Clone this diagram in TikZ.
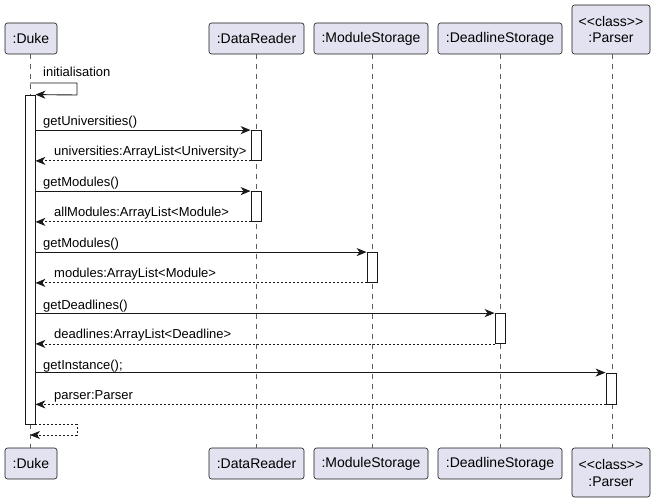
\documentclass[tikz,border=0pt]{standalone}
\usepackage{fontspec}
\setmainfont{Liberation Sans}
\usetikzlibrary{arrows.meta}
\definecolor{pfill}{HTML}{E2E2F0}
\definecolor{pline}{HTML}{181818}
\tikzset{
  part/.style={draw=pline, fill=pfill, line width=0.6pt, rounded corners=2.5pt, inner sep=0pt,
    font=\fontsize{14}{17}\selectfont, align=center, minimum height=31pt},
  life/.style={draw=pline!70, line width=0.5pt, dash pattern=on 5pt off 5pt},
  actbox/.style={draw=pline, fill=white, line width=0.8pt, inner sep=0pt, minimum width=10pt},
  call/.style={draw=pline, line width=0.9pt, -{Stealth[length=10pt,width=8pt,inset=3pt]}},
  ret/.style={draw=pline, line width=0.8pt, dash pattern=on 2pt off 2pt, -{Stealth[length=10pt,width=8pt,inset=3pt]}},
  msg/.style={anchor=base west, inner sep=0pt, font=\fontsize{13}{15}\selectfont, text=black}
}
\begin{document}
\begin{tikzpicture}[x=1pt,y=-1pt]
\useasboundingbox (0,0) rectangle (655,502);
% participants top
\node[part, minimum width=52pt] (dukeT) at (31,38.5) {:Duke};
\node[part, minimum width=95pt] (drT) at (256.5,38.5) {:DataReader};
\node[part, minimum width=114pt] (msT) at (371,38.5) {:ModuleStorage};
\node[part, minimum width=124pt] (dsT) at (500,38.5) {:DeadlineStorage};
\node[part, minimum width=78pt, minimum height=49pt] (pT) at (611,29.5) {<\kern0pt<class>\kern0pt>\\:Parser};
% participants bottom
\node[part, minimum width=52pt] (dukeB) at (31,463.5) {:Duke};
\node[part, minimum width=95pt] (drB) at (256.5,463.5) {:DataReader};
\node[part, minimum width=114pt] (msB) at (371,463.5) {:ModuleStorage};
\node[part, minimum width=124pt] (dsB) at (500,463.5) {:DeadlineStorage};
\node[part, minimum width=78pt, minimum height=49pt] (pB) at (611,472.5) {<\kern0pt<class>\kern0pt>\\:Parser};
% lifelines
\draw[life] (30,54) -- (30,448);
\draw[life] (256,54) -- (256,448);
\draw[life] (372,54) -- (372,448);
\draw[life] (500,54) -- (500,448);
\draw[life] (612,54) -- (612,448);
% activations
\node[actbox, minimum height=329pt] (dukeA) at (30,259.5) {};
\node[actbox, minimum height=30pt] (dr1) at (256,145.5) {};
\node[actbox, minimum height=30pt] (dr2) at (256,206.5) {};
\node[actbox, minimum height=30pt] (ms1) at (372,267.5) {};
\node[actbox, minimum height=30pt] (ds1) at (500,328.5) {};
\node[actbox, minimum height=31pt] (p1) at (611,388.5) {};
% self message
\coordinate (s0) at (30,83);
\coordinate (s1) at (77,95);
\draw[call] (s0) -- (s0 -| s1) -- (s1) -- (dukeA.north east);
\node[msg] (l0) at (43,77) {initialisation};
% calls and returns
\draw[call] (dukeA.east |- dr1.north) -- (dr1.north west);
\node[msg] (l1) at (43,126) {getUniversities()};
\draw[ret] (dr1.south west) -- (dukeA.east |- dr1.south);
\node[msg] (l2) at (54,155.5) {universities:ArrayList<University>};
\draw[call] (dukeA.east |- dr2.north) -- (dr2.north west);
\node[msg] (l3) at (43,187) {getModules()};
\draw[ret] (dr2.south west) -- (dukeA.east |- dr2.south);
\node[msg] (l4) at (54,216.5) {allModules:ArrayList<Module>};
\draw[call] (dukeA.east |- ms1.north) -- (ms1.north west);
\node[msg] (l5) at (43,248) {getModules()};
\draw[ret] (ms1.south west) -- (dukeA.east |- ms1.south);
\node[msg] (l6) at (54,277.5) {modules:ArrayList<Module>};
\draw[call] (dukeA.east |- ds1.north) -- (ds1.north west);
\node[msg] (l7) at (43,309) {getDeadlines()};
\draw[ret] (ds1.south west) -- (dukeA.east |- ds1.south);
\node[msg] (l8) at (54,338.5) {deadlines:ArrayList<Deadline>};
\draw[call] (dukeA.east |- p1.north) -- (p1.north west);
\node[msg] (l9) at (43,369) {getInstance();};
\draw[ret] (p1.south west) -- (dukeA.east |- p1.south);
\node[msg] (l10) at (54,399.5) {parser:Parser};
% final return
\coordinate (r0) at (77,435);
\coordinate (r1) at (30,435);
\draw[ret] (dukeA.south east) -- (dukeA.south east -| r0) -- (r0) -- (r1);
\end{tikzpicture}
\end{document}
